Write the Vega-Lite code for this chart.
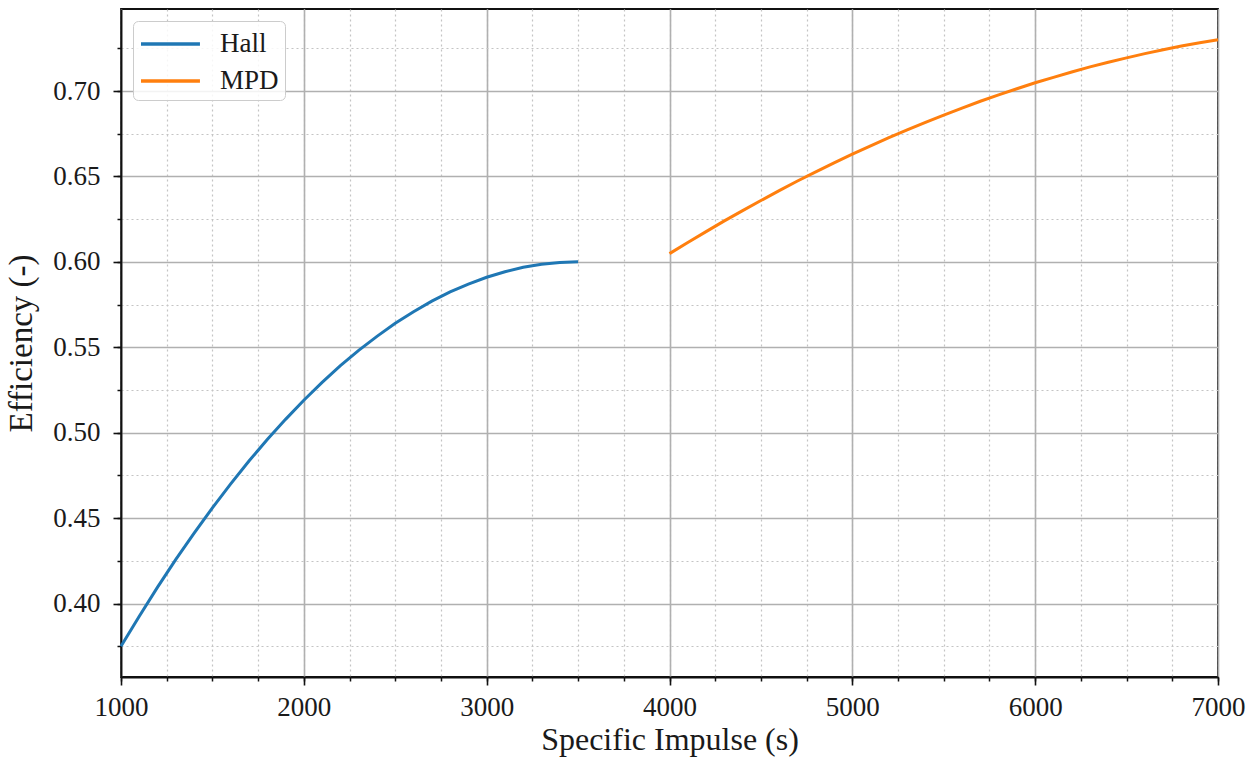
{
  "$schema": "https://vega.github.io/schema/vega-lite/v6.json",
  "width": 1097,
  "height": 668,
  "autosize": {"type": "none"},
  "padding": {"left": 121, "top": 9, "right": 37, "bottom": 86},
  "background": "white",
  "config": {
    "view": {"stroke": "#111111", "strokeWidth": 1.8},
    "font": "Liberation Serif",
    "axis": {"labelFont": "Liberation Serif", "titleFont": "Liberation Serif", "labelColor": "#1a1a1a", "titleColor": "#1a1a1a", "titleFontWeight": "normal"}
  },
  "data": {
    "values": [
      {"isp": 1000, "eff": 0.375, "series": "Hall"},
      {"isp": 1100, "eff": 0.3926, "series": "Hall"},
      {"isp": 1200, "eff": 0.4096, "series": "Hall"},
      {"isp": 1300, "eff": 0.4258, "series": "Hall"},
      {"isp": 1400, "eff": 0.4412, "series": "Hall"},
      {"isp": 1500, "eff": 0.456, "series": "Hall"},
      {"isp": 1600, "eff": 0.47, "series": "Hall"},
      {"isp": 1700, "eff": 0.4834, "series": "Hall"},
      {"isp": 1800, "eff": 0.496, "series": "Hall"},
      {"isp": 1900, "eff": 0.5078, "series": "Hall"},
      {"isp": 2000, "eff": 0.519, "series": "Hall"},
      {"isp": 2100, "eff": 0.5294, "series": "Hall"},
      {"isp": 2200, "eff": 0.5392, "series": "Hall"},
      {"isp": 2300, "eff": 0.5482, "series": "Hall"},
      {"isp": 2400, "eff": 0.5564, "series": "Hall"},
      {"isp": 2500, "eff": 0.564, "series": "Hall"},
      {"isp": 2600, "eff": 0.5708, "series": "Hall"},
      {"isp": 2700, "eff": 0.577, "series": "Hall"},
      {"isp": 2800, "eff": 0.5824, "series": "Hall"},
      {"isp": 2900, "eff": 0.587, "series": "Hall"},
      {"isp": 3000, "eff": 0.591, "series": "Hall"},
      {"isp": 3100, "eff": 0.5942, "series": "Hall"},
      {"isp": 3200, "eff": 0.5968, "series": "Hall"},
      {"isp": 3300, "eff": 0.5986, "series": "Hall"},
      {"isp": 3400, "eff": 0.5996, "series": "Hall"},
      {"isp": 3500, "eff": 0.6, "series": "Hall"},
      {"isp": 4000, "eff": 0.6048, "series": "MPD"},
      {"isp": 4100, "eff": 0.6113, "series": "MPD"},
      {"isp": 4200, "eff": 0.6177, "series": "MPD"},
      {"isp": 4300, "eff": 0.624, "series": "MPD"},
      {"isp": 4400, "eff": 0.63, "series": "MPD"},
      {"isp": 4500, "eff": 0.6359, "series": "MPD"},
      {"isp": 4600, "eff": 0.6417, "series": "MPD"},
      {"isp": 4700, "eff": 0.6473, "series": "MPD"},
      {"isp": 4800, "eff": 0.6527, "series": "MPD"},
      {"isp": 4900, "eff": 0.6579, "series": "MPD"},
      {"isp": 5000, "eff": 0.663, "series": "MPD"},
      {"isp": 5100, "eff": 0.6679, "series": "MPD"},
      {"isp": 5200, "eff": 0.6727, "series": "MPD"},
      {"isp": 5300, "eff": 0.6773, "series": "MPD"},
      {"isp": 5400, "eff": 0.6817, "series": "MPD"},
      {"isp": 5500, "eff": 0.6859, "series": "MPD"},
      {"isp": 5600, "eff": 0.69, "series": "MPD"},
      {"isp": 5700, "eff": 0.694, "series": "MPD"},
      {"isp": 5800, "eff": 0.6977, "series": "MPD"},
      {"isp": 5900, "eff": 0.7013, "series": "MPD"},
      {"isp": 6000, "eff": 0.7048, "series": "MPD"},
      {"isp": 6100, "eff": 0.708, "series": "MPD"},
      {"isp": 6200, "eff": 0.7111, "series": "MPD"},
      {"isp": 6300, "eff": 0.7141, "series": "MPD"},
      {"isp": 6400, "eff": 0.7168, "series": "MPD"},
      {"isp": 6500, "eff": 0.7194, "series": "MPD"},
      {"isp": 6600, "eff": 0.7219, "series": "MPD"},
      {"isp": 6700, "eff": 0.7242, "series": "MPD"},
      {"isp": 6800, "eff": 0.7263, "series": "MPD"},
      {"isp": 6900, "eff": 0.7282, "series": "MPD"},
      {"isp": 7000, "eff": 0.73, "series": "MPD"}
    ]
  },
  "layer": [
    {
      "mark": {"type": "line", "strokeOpacity": 0},
      "encoding": {
        "x": {
          "field": "isp", "type": "quantitative",
          "scale": {"domain": [1000, 7000], "nice": false, "zero": false},
          "axis": {
            "orient": "bottom", "title": null, "labels": false, "domain": false,
            "values": [1000, 1250, 1500, 1750, 2000, 2250, 2500, 2750, 3000, 3250, 3500, 3750, 4000, 4250, 4500, 4750, 5000, 5250, 5500, 5750, 6000, 6250, 6500, 6750, 7000],
            "tickSize": 4, "tickWidth": 1.5, "tickColor": "#111111",
            "grid": true, "gridDash": [2, 3], "gridColor": "#c4c4c4", "gridWidth": 1.2
          }
        },
        "y": {
          "field": "eff", "type": "quantitative",
          "scale": {"domain": [0.357, 0.748], "nice": false, "zero": false},
          "axis": {
            "orient": "left", "title": null, "labels": false, "domain": false,
            "values": [0.375, 0.4, 0.425, 0.45, 0.475, 0.5, 0.525, 0.55, 0.575, 0.6, 0.625, 0.65, 0.675, 0.7, 0.725],
            "tickSize": 4, "tickWidth": 1.5, "tickColor": "#111111",
            "grid": true, "gridDash": [2, 3], "gridColor": "#c4c4c4", "gridWidth": 1.2
          }
        },
        "detail": {"field": "series"}
      }
    },
    {
      "mark": {"type": "line", "strokeWidth": 3},
      "encoding": {
        "x": {
          "field": "isp", "type": "quantitative",
          "scale": {"domain": [1000, 7000], "nice": false, "zero": false},
          "axis": {
            "orient": "bottom", "title": "Specific Impulse (s)",
            "values": [1000, 2000, 3000, 4000, 5000, 6000, 7000], "format": "d",
            "labelFontSize": 27, "labelPadding": 9, "labelFlush": false,
            "titleFontSize": 32, "titlePadding": 4,
            "tickSize": 8, "tickWidth": 1.6, "tickColor": "#111111",
            "domain": true, "domainColor": "#111111", "domainWidth": 1.8,
            "grid": true, "gridColor": "#b0b0b0", "gridWidth": 1.6
          }
        },
        "y": {
          "field": "eff", "type": "quantitative",
          "scale": {"domain": [0.357, 0.748], "nice": false, "zero": false},
          "axis": {
            "orient": "left", "title": "Efficiency (-)",
            "values": [0.4, 0.45, 0.5, 0.55, 0.6, 0.65, 0.7], "format": ".2f",
            "labelFontSize": 27, "labelPadding": 13,
            "titleFontSize": 33, "titlePadding": 14,
            "tickSize": 8, "tickWidth": 1.6, "tickColor": "#111111",
            "domain": true, "domainColor": "#111111", "domainWidth": 1.8,
            "grid": true, "gridColor": "#b0b0b0", "gridWidth": 1.6
          }
        },
        "color": {
          "field": "series", "type": "nominal",
          "scale": {"domain": ["Hall", "MPD"], "range": ["#1f77b4", "#ff7f0e"]},
          "legend": {
            "orient": "none", "legendX": 12, "legendY": 12, "title": null,
            "symbolType": "M-1,0H2.93", "symbolStrokeWidth": 3.5, "symbolSize": 900,
            "labelFont": "Liberation Serif", "labelFontSize": 27, "labelColor": "#1a1a1a", "labelOffset": 47,
            "strokeColor": "#cccccc", "fillColor": "rgba(255,255,255,0.85)", "cornerRadius": 5,
            "padding": 6, "rowPadding": 7
          }
        }
      }
    }
  ],
  "resolve": {"axis": {"x": "independent", "y": "independent"}}
}
